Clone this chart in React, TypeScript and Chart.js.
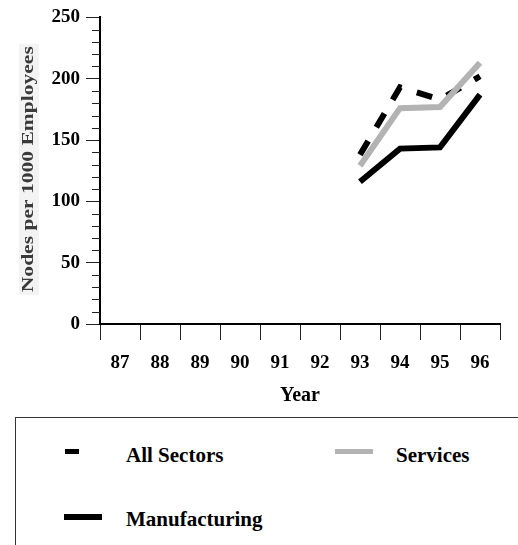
import React, { useEffect, useRef } from 'react';
import { Chart, registerables } from 'chart.js';

Chart.register(...registerables);

const years = ['87', '88', '89', '90', '91', '92', '93', '94', '95', '96'];
const allSectors = [null, null, null, null, null, null, 138, 193, 183, 202];
const services = [null, null, null, null, null, null, 129, 176, 177, 213];
const manufacturing = [null, null, null, null, null, null, 116, 143, 144, 187];
const yMin = 0;
const yMax = 250;
const yMinorStep = 10;
const yMajorStep = 50;
const yTitle = 'Nodes per 1000 Employees';
const xTitle = 'Year';
const seriesNames = ['All Sectors', 'Services', 'Manufacturing'];

const SERIF = '"Liberation Serif", "Times New Roman", serif';

const extrasPlugin = {
  id: 'extras',
  afterDraw(chart: any) {
    const ctx = chart.ctx as CanvasRenderingContext2D;
    const ys = chart.scales.y;
    ctx.save();
    // minor ticks on the y axis
    ctx.strokeStyle = '#222';
    ctx.lineWidth = 1;
    for (let v = yMin; v <= yMax; v += yMinorStep) {
      if (v % yMajorStep === 0) continue;
      const py = Math.round(ys.getPixelForValue(v)) + 0.5;
      ctx.beginPath();
      ctx.moveTo(ys.right - 8, py);
      ctx.lineTo(ys.right, py);
      ctx.stroke();
    }
    // stretched y-axis title
    const cy = (chart.chartArea.top + chart.chartArea.bottom) / 2 - 1.5;
    ctx.translate(33, cy);
    ctx.rotate(-Math.PI / 2);
    ctx.font = 'bold 17px ' + SERIF;
    const w = ctx.measureText(yTitle).width;
    ctx.scale(246 / w, 1);
    ctx.fillStyle = '#f3f3f3';
    ctx.fillRect(-w / 2 - 2, -14, w + 4, 20);
    ctx.fillStyle = '#3a3a3a';
    ctx.textAlign = 'center';
    ctx.textBaseline = 'alphabetic';
    ctx.fillText(yTitle, 0, 0);
    ctx.restore();
  },
};

export default function App() {
  const ref = useRef<HTMLCanvasElement | null>(null);

  useEffect(() => {
    if (!ref.current) return;
    const chart = new Chart(ref.current, {
      type: 'line',
      data: {
        labels: years,
        datasets: [
          {
            label: seriesNames[0],
            data: allSectors,
            borderColor: '#000',
            borderWidth: 6,
            borderDash: [16, 16],
            pointRadius: 0,
            order: 3,
            tension: 0,
          },
          {
            label: seriesNames[1],
            data: services,
            borderColor: '#b3b3b3',
            borderWidth: 6,
            pointRadius: 0,
            order: 1,
            tension: 0,
          },
          {
            label: seriesNames[2],
            data: manufacturing,
            borderColor: '#000',
            borderWidth: 6,
            pointRadius: 0,
            order: 2,
            tension: 0,
          },
        ],
      },
      options: {
        responsive: false,
        animation: false,
        events: [],
        devicePixelRatio: 1,
        layout: { padding: { top: 17, right: 18, left: 0, bottom: 0 } },
        plugins: {
          legend: { display: false },
          tooltip: { enabled: false },
        },
        scales: {
          x: {
            type: 'category',
            offset: true,
            grid: {
              offset: true,
              drawOnChartArea: false,
              drawTicks: true,
              tickLength: 16,
              color: '#222',
              lineWidth: 1,
            },
            border: { display: true, color: '#000', width: 2 },
            ticks: {
              color: '#000',
              font: { family: SERIF, weight: 'bold', size: 19 },
              padding: 12,
              maxRotation: 0,
              autoSkip: false,
            },
            title: {
              display: true,
              text: xTitle,
              color: '#000',
              font: { family: SERIF, weight: 'bold', size: 20 },
              padding: { top: 0, bottom: 2 },
            },
            afterFit: (s: any) => {
              s.height = 86;
            },
          },
          y: {
            min: yMin,
            max: yMax,
            grid: {
              drawOnChartArea: false,
              drawTicks: true,
              tickLength: 14,
              tickColor: (c: any) =>
                c.tick && c.tick.value % yMajorStep === 0 ? '#222' : 'rgba(0,0,0,0)',
              lineWidth: 1,
            },
            border: { display: true, color: '#000', width: 2 },
            ticks: {
              stepSize: yMinorStep,
              autoSkip: false,
              color: '#000',
              padding: 6,
              font: { family: SERIF, weight: 'bold', size: 19 },
              callback: (v: any) => (Number(v) % yMajorStep === 0 ? String(v) : ''),
            },
            afterFit: (s: any) => {
              s.width = 100;
            },
          },
        },
      },
      plugins: [extrasPlugin],
    } as any);
    return () => chart.destroy();
  }, []);

  const textStyle: React.CSSProperties = {
    position: 'absolute',
    font: 'bold 21px ' + SERIF,
    lineHeight: '21px',
    color: '#000',
    whiteSpace: 'nowrap',
  };

  return (
    <div
      style={{
        position: 'fixed',
        left: 0,
        top: 0,
        width: 518,
        height: 545,
        background: '#fff',
        overflow: 'hidden',
      }}
    >
      <canvas
        ref={ref}
        width={518}
        height={410}
        style={{ position: 'absolute', left: 0, top: 0, width: 518, height: 410 }}
      />
      <div
        style={{
          position: 'absolute',
          left: 15,
          top: 417,
          width: 510,
          height: 140,
          borderTop: '1px solid #333',
          borderLeft: '1px solid #333',
        }}
      />
      <div style={{ position: 'absolute', left: 65, top: 449, width: 14, height: 5, background: '#000' }} />
      <div style={{ ...textStyle, left: 126, top: 445 }}>{seriesNames[0]}</div>
      <div style={{ position: 'absolute', left: 335, top: 449, width: 38, height: 5, background: '#b3b3b3' }} />
      <div style={{ ...textStyle, left: 396, top: 445 }}>{seriesNames[1]}</div>
      <div style={{ position: 'absolute', left: 64, top: 514, width: 38, height: 6, background: '#000' }} />
      <div style={{ ...textStyle, left: 126, top: 509 }}>{seriesNames[2]}</div>
    </div>
  );
}
